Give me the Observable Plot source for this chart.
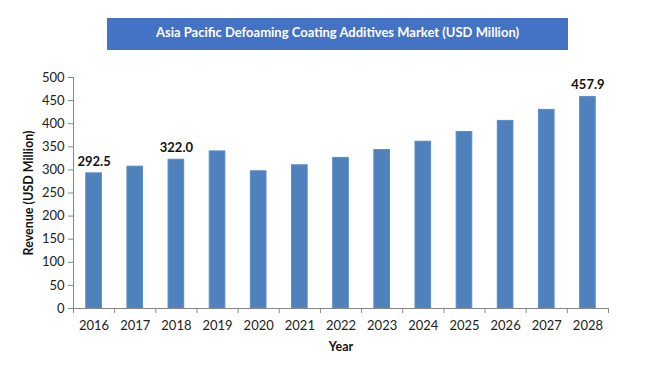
<!DOCTYPE html>
<html><head><meta charset="utf-8">
<script src="https://cdn.jsdelivr.net/npm/d3@7"></script>
<script src="https://cdn.jsdelivr.net/npm/@observablehq/plot@0.6"></script>
<style>
body{margin:0;background:#fff;font-family:Lato,"Open Sans",sans-serif;}
#wrap{position:relative;width:659px;height:374px;}
#title{position:absolute;left:107px;top:18px;width:461px;height:32px;background:#4472C4;color:#fff;font:bold 13px Lato,sans-serif;text-align:center;line-height:28px;}
#chart{position:absolute;left:0;top:0;}
</style></head>
<body><div id="wrap"><div id="chart"></div><div id="title">Asia Pacific Defoaming Coating Additives Market (USD Million)</div></div>
<script>
const years = [2016,2017,2018,2019,2020,2021,2022,2023,2024,2025,2026,2027,2028];
const revenue = [292.5,307,322.0,340,297,310,326,343,361,382,406,430,457.9];
const labeled = {2016:"292.5",2018:"322.0",2028:"457.9"};
const yTicks = [0,50,100,150,200,250,300,350,400,450,500];
const xTitle = ["Year"];
const yTitle = ["Revenue (USD Million)"];
const data = years.map((y,i)=>({year:y, value:revenue[i], label:labeled[y]||""}));
const bounds = years.map(y=>y-0.5).concat([years[years.length-1]+0.5]);

const chart = Plot.plot({
  width:659, height:374,
  marginLeft:73, marginRight:51, marginTop:77, marginBottom:66,
  style:{fontFamily:"Lato, sans-serif", fontSize:"13px", color:"#222", background:"transparent"},
  x:{type:"linear", domain:[2015.5,2028.5]},
  y:{domain:[0,500]},
  marks:[
    Plot.rectY(data,{x1:d=>d.year-0.19, x2:d=>d.year+0.19, y:"value", fill:"#4F81BD", stroke:"#5B8DC9", strokeWidth:1}),
    Plot.axisY({ticks:yTicks, tickSize:5, tickPadding:4, stroke:"#868686", label:null, fontSize:13}),
    Plot.axisX({ticks:bounds, tickSize:5, tickFormat:()=>"", stroke:"#868686", label:null}),
    Plot.axisX({ticks:years, tickSize:0, tickPadding:12, tickFormat:d=>String(d), label:null, fontSize:13}),
    Plot.ruleY([0],{stroke:"#868686"}),
    Plot.ruleX([2015.5],{stroke:"#868686"}),
    Plot.text(data,{x:"year", y:"value", text:"label", dy:-12, fontWeight:"bold", fontSize:13, fill:"#111"}),
    Plot.text(xTitle,{frameAnchor:"bottom", text:d=>d, dy:42, fontWeight:"bold", fontSize:12.5, fill:"#111"}),
    Plot.text(yTitle,{frameAnchor:"left", textAnchor:"middle", text:d=>d, dx:-45, rotate:-90, fontWeight:"bold", fontSize:12.5, fill:"#111"})
  ]
});
document.getElementById("chart").appendChild(chart);
</script>
</body></html>
